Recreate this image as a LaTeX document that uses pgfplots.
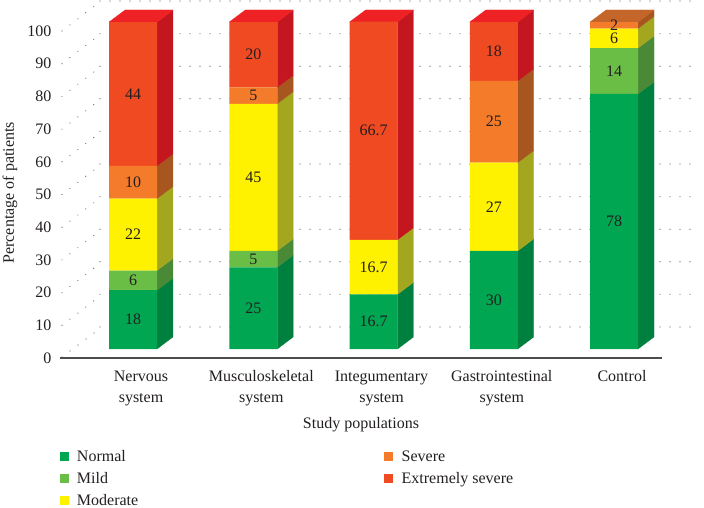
\documentclass[border=0pt]{standalone}
\usepackage{fontspec}
\setmainfont{Liberation Serif}
\usepackage{pgfplots}
\usepackage{pgfplotstable}
\pgfplotsset{compat=1.18}

\definecolor{ink}{HTML}{231F20}
\definecolor{dots}{HTML}{58595B}
\definecolor{normal}{HTML}{00A651}
\definecolor{normalside}{HTML}{00803F}
\definecolor{mild}{HTML}{6ABD45}
\definecolor{mildside}{HTML}{4A8935}
\definecolor{moderate}{HTML}{FFF200}
\definecolor{moderateside}{HTML}{A3A61F}
\definecolor{severe}{HTML}{F47B2A}
\definecolor{severeside}{HTML}{A8561F}
\definecolor{extreme}{HTML}{F04A23}
\definecolor{extremeside}{HTML}{C4161F}
\definecolor{extremetop}{HTML}{EE2124}
\definecolor{severetop}{HTML}{C4652A}

\newcommand\fs{\fontsize{16}{21}\selectfont}

% percentages per study population
\pgfplotstableread{
x normal mild moderate severe extreme
0 18   6  22   10 44
1 25   5  45   5  20
2 16.7 0  16.7 0  66.7
3 30   0  27   25 18
4 78   14 6    2  0
}\datatable

% right side of one stack segment: x, low, high, colour
\newcommand\side[4]{%
  \pgfmathsetmacro\xa{#1+0.133}\pgfmathsetmacro\xb{#1+0.266}%
  \pgfmathsetmacro\ya{#2+3.67}\pgfmathsetmacro\yb{#3+3.67}%
  \addplot[fill=#4,draw=#4,line width=.2pt,forget plot]
    coordinates {(\xa,#2)(\xb,\ya)(\xb,\yb)(\xa,#3)} --cycle;
}
% top of one stack
\newcommand\topface[3]{%
  \pgfmathsetmacro\xa{#1-0.266}\pgfmathsetmacro\xb{#1+0.133}%
  \pgfmathsetmacro\xc{#1+0.266}\pgfmathsetmacro\xd{#1-0.133}%
  \pgfmathsetmacro\ya{#2+3.67}%
  \addplot[fill=#3,draw=#3,line width=.2pt,forget plot]
    coordinates {(\xa,#2)(\xb,#2)(\xc,\ya)(\xd,\ya)} --cycle;
}
\newcommand\diag[2]{%
  \addplot[dots,line width=1.15pt,line cap=round,dash pattern=on 0pt off 10pt,forget plot]
    coordinates {(-0.657,#1)(-0.341,#2)};
}
\newcommand\key[2]{%
  \addlegendimage{legend image code/.code={\fill[#1] (0,-4pt) rectangle (8pt,4pt);\path (15pt,0);}}
  \addlegendentry{#2}
}

\pgfplotsset{
  base/.style={
    scale only axis, clip=false,
    width=602pt, height=327pt,
    xmin=-0.6736, xmax=4.3326,
    at={(60pt,150pt)}, anchor=south west,
  },
  bare/.style={base, hide axis, ymin=-2.75, ymax=97.25},
}

\begin{document}
\begin{tikzpicture}[x=1pt,y=1pt]
\path[use as bounding box] (0,0) rectangle (704,508);

% back wall grid
\begin{axis}[
    scale only axis, clip=false,
    at={(100pt,181pt)}, anchor=south west,
    width=600pt, height=326pt,
    xmin=0, xmax=1, ymin=0, ymax=100,
    xtick=\empty, ytick={0,10,...,100}, yticklabels={},
    axis line style={draw=none}, tick style={draw=none},
    ymajorgrids=true,
    grid style={dots,line width=1.15pt,line cap=round,dash pattern=on 0pt off 10pt},
]
\end{axis}

% frame, ticks, labels, legend
\begin{axis}[
    base,
    ymin=0, ymax=100,
    axis lines*=left,
    y axis line style={draw=none},
    x axis line style={draw=ink!80,line width=1.2pt,-},
    tick style={draw=none},
    ytick={0,10,...,100},
    xtick={0,1,2,3,4},
    xticklabels={{Nervous\\system},{Musculoskeletal\\system},{Integumentary\\system},{Gastrointestinal\\system},{Control}},
    /pgf/number format/assume math mode=true,
    tick label style={font=\fs,text=ink},
    xticklabel style={align=center,anchor=north,yshift=-9pt},
    yticklabel style={xshift=-5pt},
    xlabel={Study populations},
    ylabel={Percentage of patients},
    every axis x label/.style={at={(axis description cs:0.5,-0.205)},anchor=center,font=\fs,text=ink},
    every axis y label/.style={at={(axis description cs:-0.083,0.505)},anchor=center,rotate=90,font=\fs,text=ink},
    legend columns=2,
    legend cell align=left,
    legend style={
      at={(axis description cs:-0.006,-0.269)},anchor=north west,
      draw=none,fill=none,font=\fs,text=ink,
      row sep=5.5pt,
      /tikz/column 2/.style={column sep=244pt},
    },
]
\diag{0.3}{9}
\diag{10}{18.9}
\diag{20}{28.9}
\diag{30}{38.9}
\diag{40}{48.9}
\diag{50}{58.9}
\diag{60}{68.9}
\diag{70}{78.9}
\diag{80}{88.9}
\diag{90}{98.9}
\diag{100}{108.9}
\key{normal}{Normal}
\key{severe}{Severe}
\key{mild}{Mild}
\key{extreme}{Extremely severe}
\key{moderate}{Moderate}
\end{axis}

% side and top faces
\begin{axis}[bare]
\side{0}{0}{18}{normalside}
\side{0}{18}{24}{mildside}
\side{0}{24}{46}{moderateside}
\side{0}{46}{56}{severeside}
\side{0}{56}{100}{extremeside}
\topface{0}{100}{extremetop}
\side{1}{0}{25}{normalside}
\side{1}{25}{30}{mildside}
\side{1}{30}{75}{moderateside}
\side{1}{75}{80}{severeside}
\side{1}{80}{100}{extremeside}
\topface{1}{100}{extremetop}
\side{2}{0}{16.7}{normalside}
\side{2}{16.7}{33.4}{moderateside}
\side{2}{33.4}{100}{extremeside}
\topface{2}{100}{extremetop}
\side{3}{0}{30}{normalside}
\side{3}{30}{57}{moderateside}
\side{3}{57}{82}{severeside}
\side{3}{82}{100}{extremeside}
\topface{3}{100}{extremetop}
\side{4}{0}{78}{normalside}
\side{4}{78}{92}{mildside}
\side{4}{92}{98}{moderateside}
\side{4}{98}{100}{severeside}
\topface{4}{100}{severetop}
\end{axis}

% front faces
\begin{axis}[
    bare,
    ybar stacked,
    bar width=48pt,
    /pgf/bar shift=-8pt,
    /pgf/number format/assume math mode=true,
    visualization depends on=rawy \as \rawy,
    nodes near coords={\pgfmathparse{\rawy>0}\ifnum\pgfmathresult=1 \pgfmathprintnumber{\rawy}\fi},
    every node near coord/.append style={
      anchor=center,font=\fs,text=ink,inner sep=0pt,
    },
]
\addplot[fill=normal,draw=none] table[x=x,y=normal] {\datatable};
\addplot[fill=mild,draw=none] table[x=x,y=mild] {\datatable};
\addplot[fill=moderate,draw=none] table[x=x,y=moderate] {\datatable};
\addplot[fill=severe,draw=none] table[x=x,y=severe] {\datatable};
\addplot[fill=extreme,draw=none] table[x=x,y=extreme] {\datatable};
\end{axis}
\end{tikzpicture}
\end{document}
